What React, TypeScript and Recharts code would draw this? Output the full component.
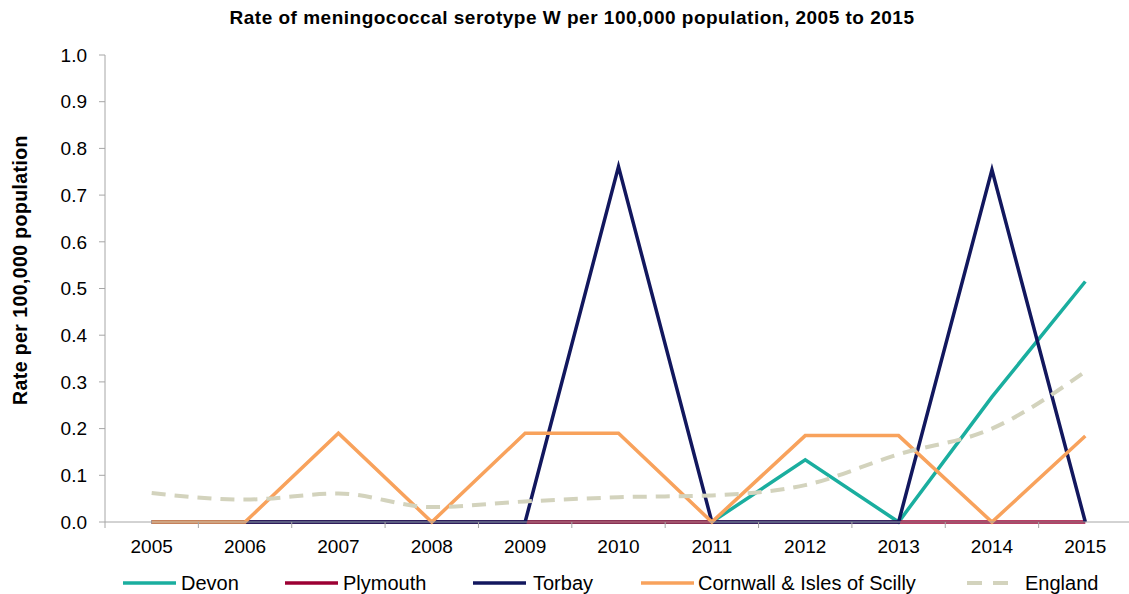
import React from 'react';
import { LineChart, Line, XAxis, YAxis, Legend, Label } from 'recharts';

const years = ['2005', '2006', '2007', '2008', '2009', '2010', '2011', '2012', '2013', '2014', '2015'];
const devon = [0, 0, 0, 0, 0, 0, 0, 0.133, 0, 0.268, 0.515];
const plymouth = [0, 0, 0, 0, 0, 0, 0, 0, 0, 0, 0];
const torbay = [0, 0, 0, 0, 0, 0.761, 0, 0, 0, 0.754, 0];
const cornwall = [0, 0, 0.19, 0, 0.19, 0.19, 0, 0.185, 0.185, 0, 0.184];
const england = [0.062, 0.048, 0.061, 0.032, 0.044, 0.053, 0.057, 0.079, 0.145, 0.2, 0.322];
const yTicks = [0, 0.1, 0.2, 0.3, 0.4, 0.5, 0.6, 0.7, 0.8, 0.9, 1.0];

const series = [
  { key: 'devon', name: 'Devon', color: '#1aae9f', dash: undefined as string | undefined },
  { key: 'plymouth', name: 'Plymouth', color: '#9c0033', dash: undefined },
  { key: 'torbay', name: 'Torbay', color: '#12175e', dash: undefined },
  { key: 'cornwall', name: 'Cornwall & Isles of Scilly', color: '#f8a25c', dash: undefined },
  { key: 'england', name: 'England', color: '#d3d3bd', dash: '14 9' },
];

const data = years.map((year, i) => ({
  year,
  devon: devon[i],
  plymouth: plymouth[i],
  torbay: torbay[i],
  cornwall: cornwall[i],
  england: england[i],
}));

const W = 1129;
const H = 594;
const LEFT = 105;
const RIGHT_OVER = 3;
const half = (W + RIGHT_OVER - LEFT) / years.length / 2;
const font = '"Liberation Sans", Arial, sans-serif';
const axisGrey = '#a6a6a6';

const legendPos = [
  { line: 123, text: 181 },
  { line: 285, text: 343 },
  { line: 473, text: 533 },
  { line: 641, text: 698 },
  { line: 967, text: 1025 },
];

const XTick = (props: any) => {
  const { x, y, payload } = props;
  const ay = y - 8;
  return (
    <g>
      <line x1={x - half} x2={x - half} y1={ay} y2={ay + 6} stroke={axisGrey} strokeWidth={1} />
      <text x={x} y={ay + 31} textAnchor="middle" fontSize={19} fill="#000" fontFamily={font}>
        {payload.value}
      </text>
    </g>
  );
};

const LegendContent = () => (
  <svg width={W} height={26} style={{ display: 'block' }}>
    {series.map((s, i) => (
      <g key={s.key}>
        <line
          x1={legendPos[i].line}
          x2={legendPos[i].line + (s.dash ? 41 : 53)}
          y1={13}
          y2={13}
          stroke={s.color}
          strokeWidth={s.dash ? 4 : 3.5}
          strokeDasharray={s.dash ? '15 11' : undefined}
        />
        <text x={legendPos[i].text} y={20} fontSize={20} fill="#000" fontFamily={font}>
          {s.name}
        </text>
      </g>
    ))}
  </svg>
);

export default function App() {
  return (
    <div style={{ position: 'absolute', left: 0, top: 0, width: W, height: H, overflow: 'hidden', background: '#fff', fontFamily: font }}>
      <div
        style={{
          position: 'absolute',
          top: 7,
          left: 0,
          width: 1144,
          textAlign: 'center',
          fontWeight: 'bold',
          fontSize: 19,
          letterSpacing: 0.5,
          color: '#000',
        }}
      >
        Rate of meningococcal serotype W per 100,000 population, 2005 to 2015
      </div>
      <LineChart width={W} height={H} data={data} margin={{ top: 55, right: -RIGHT_OVER, bottom: 42, left: 0 }}>
        <XAxis
          dataKey="year"
          padding={{ left: half, right: half }}
          axisLine={{ stroke: axisGrey }}
          tickLine={false}
          tick={<XTick />}
          interval={0}
          height={30}
        />
        <YAxis
          width={LEFT}
          domain={[0, 1]}
          ticks={yTicks}
          tickFormatter={(v: number) => v.toFixed(1)}
          axisLine={{ stroke: axisGrey }}
          tickLine={{ stroke: axisGrey }}
          tickSize={6}
          tickMargin={12}
          tick={{ fontSize: 19, fill: '#000', fontFamily: font }}
        >
          <Label
            content={() => (
              <text
                x={27}
                y={270}
                transform="rotate(-90, 27, 270)"
                textAnchor="middle"
                fontSize={19.5}
                letterSpacing={0.4}
                fontWeight="bold"
                fill="#000"
                fontFamily={font}
              >
                Rate per 100,000 population
              </text>
            )}
          />
        </YAxis>
        {series.map((s) => (
          <Line
            key={s.key}
            dataKey={s.key}
            name={s.name}
            type={s.key === 'england' ? 'monotone' : 'linear'}
            stroke={s.color}
            strokeWidth={s.dash ? 4 : 3.5}
            strokeDasharray={s.dash}
            dot={false}
            activeDot={false}
            isAnimationActive={false}
          />
        ))}
        <Legend
          layout="horizontal"
          verticalAlign="middle"
          align="center"
          content={<LegendContent />}
          wrapperStyle={{ left: 0, top: 570, width: W }}
        />
      </LineChart>
    </div>
  );
}
